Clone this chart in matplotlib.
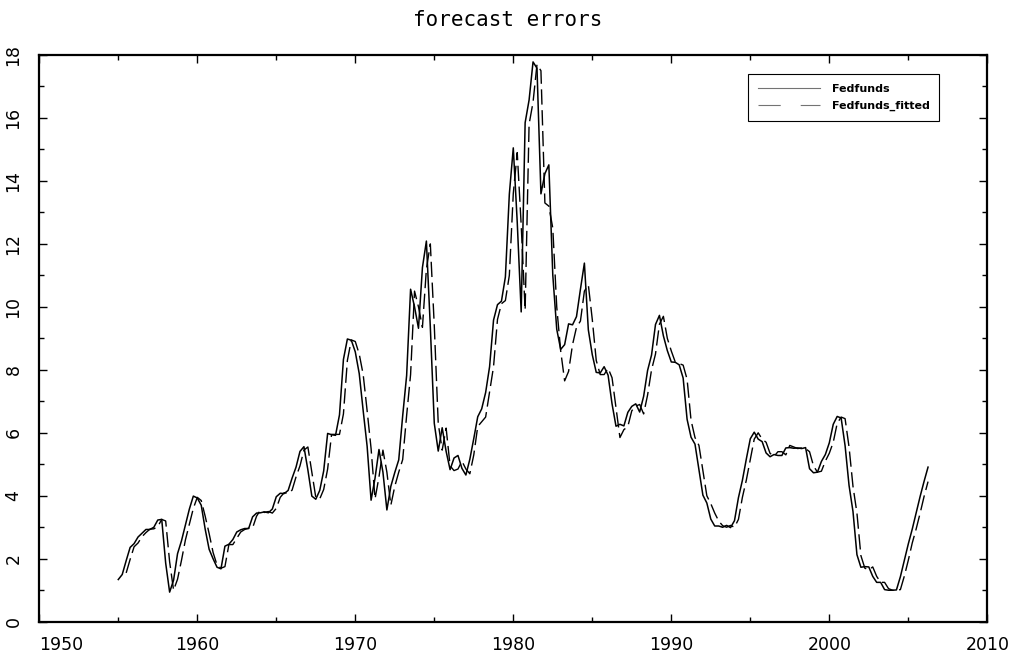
import numpy as np
import matplotlib
matplotlib.use("Agg")
import matplotlib.pyplot as plt
from matplotlib.lines import Line2D
from matplotlib.ticker import MultipleLocator

# quarterly fed funds rate, 1955Q1 .. 2006Q2
first_year = 1955
fedfunds = [
    1.34, 1.50, 1.94, 2.36,   # 1955
    2.48, 2.69, 2.81, 2.93,   # 1956
    2.93, 3.00, 3.23, 3.25,   # 1957
    1.86, 0.94, 1.32, 2.16,   # 1958
    2.57, 3.08, 3.58, 3.99,   # 1959
    3.93, 3.70, 2.94, 2.30,   # 1960
    2.00, 1.73, 1.68, 2.40,   # 1961
    2.46, 2.61, 2.85, 2.92,   # 1962
    2.96, 2.96, 3.33, 3.45,   # 1963
    3.46, 3.49, 3.46, 3.58,   # 1964
    3.97, 4.08, 4.07, 4.17,   # 1965
    4.56, 4.91, 5.41, 5.56,   # 1966
    4.82, 3.99, 3.89, 4.17,   # 1967
    4.79, 5.98, 5.94, 5.92,   # 1968
    6.57, 8.33, 8.98, 8.94,   # 1969
    8.57, 7.88, 6.70, 5.57,   # 1970
    3.86, 4.56, 5.47, 4.75,   # 1971
    3.55, 4.30, 4.74, 5.14,   # 1972
    6.54, 7.82, 10.56, 10.00, # 1973
    9.32, 11.25, 12.09, 9.35, # 1974
    6.30, 5.42, 6.16, 5.41,   # 1975
    4.83, 5.20, 5.28, 4.87,   # 1976
    4.66, 5.16, 5.82, 6.51,   # 1977
    6.76, 7.28, 8.10, 9.58,   # 1978
    10.07, 10.18, 10.95, 13.58,  # 1979
    15.05, 12.69, 9.84, 15.85,   # 1980
    16.57, 17.78, 17.58, 13.59,  # 1981
    14.23, 14.51, 11.01, 9.29,   # 1982
    8.65, 8.80, 9.46, 9.43,   # 1983
    9.69, 10.56, 11.39, 9.27, # 1984
    8.48, 7.92, 7.90, 8.10,   # 1985
    7.83, 6.92, 6.21, 6.27,   # 1986
    6.22, 6.65, 6.84, 6.92,   # 1987
    6.66, 7.16, 7.98, 8.47,   # 1988
    9.44, 9.73, 9.08, 8.61,   # 1989
    8.25, 8.24, 8.16, 7.74,   # 1990
    6.43, 5.86, 5.64, 4.82,   # 1991
    4.02, 3.77, 3.26, 3.04,   # 1992
    3.04, 3.00, 3.06, 2.99,   # 1993
    3.21, 3.94, 4.49, 5.17,   # 1994
    5.81, 6.02, 5.80, 5.72,   # 1995
    5.36, 5.24, 5.31, 5.28,   # 1996
    5.28, 5.52, 5.53, 5.51,   # 1997
    5.52, 5.50, 5.53, 4.86,   # 1998
    4.73, 4.75, 5.09, 5.31,   # 1999
    5.68, 6.27, 6.52, 6.47,   # 2000
    5.59, 4.33, 3.50, 2.13,   # 2001
    1.73, 1.75, 1.74, 1.44,   # 2002
    1.25, 1.25, 1.02, 1.00,   # 2003
    1.00, 1.01, 1.43, 1.95,   # 2004
    2.47, 2.94, 3.46, 3.98,   # 2005
    4.46, 4.91,               # 2006
]

# one step ahead fitted values
fedfunds_fitted = [
    np.nan, np.nan, 1.55, 1.98,
    2.38, 2.50, 2.70, 2.83,
    2.94, 2.95, 3.02, 3.25,
    3.20, 1.90, 1.00, 1.35,
    1.95, 2.60, 3.10, 3.60,
    3.95, 3.85, 3.35, 2.80,
    2.20, 1.80, 1.70, 1.75,
    2.45, 2.45, 2.65, 2.85,
    2.93, 2.97, 2.98, 3.35,
    3.55, 3.47, 3.50, 3.45,
    3.60, 3.95, 4.10, 4.07,
    4.18, 4.60, 4.95, 5.45,
    5.55, 4.75, 3.95, 3.90,
    4.20, 4.85, 5.95, 5.95,
    5.95, 6.60, 8.30, 8.95,
    8.90, 8.50, 7.85, 6.70,
    5.50, 3.90, 4.60, 5.45,
    4.75, 3.70, 4.30, 4.75,
    5.15, 6.55, 7.85, 10.50,
    10.00, 9.35, 11.20, 12.00,
    9.40, 6.30, 5.45, 6.15,
    4.95, 4.80, 4.85, 5.10,
    4.85, 4.70, 5.30, 6.20,
    6.35, 6.50, 7.30, 8.10,
    9.60, 10.10, 10.20, 11.00,
    13.60, 14.90, 12.60, 9.90,
    15.80, 16.50, 17.70, 17.50,
    13.30, 13.20, 12.50, 10.00,
    8.60, 7.65, 7.95, 8.80,
    9.35, 9.55, 10.50, 10.70,
    9.60, 8.30, 7.85, 7.85,
    8.05, 7.75, 6.80, 5.85,
    6.10, 6.20, 6.70, 6.85,
    6.90, 6.60, 7.20, 8.00,
    8.50, 9.45, 9.70, 9.00,
    8.60, 8.25, 8.20, 8.15,
    7.70, 6.40, 5.85, 5.60,
    4.80, 4.00, 3.75, 3.45,
    3.20, 3.05, 3.00, 3.06,
    3.00, 3.25, 3.95, 4.50,
    5.15, 5.80, 6.00, 5.80,
    5.70, 5.35, 5.25, 5.40,
    5.40, 5.30, 5.60, 5.55,
    5.50, 5.52, 5.50, 5.40,
    4.95, 4.75, 4.78, 5.10,
    5.35, 5.70, 6.30, 6.50,
    6.45, 5.55, 4.30, 3.45,
    2.10, 1.70, 1.65, 1.74,
    1.44, 1.25, 1.25, 1.05,
    1.00, 1.00, 1.02, 1.45,
    1.95, 2.50, 2.95, 3.45,
    3.98, 4.45,
]

year_ticks = [1950, 1960, 1970, 1980, 1990, 2000, 2010]
year_labels = ["1950", "1960", "1970", "1980", "1990", "2000", "2010"]

dates = first_year + np.arange(len(fedfunds)) / 4.0

fig = plt.figure(figsize=(10.15, 6.57), dpi=100)
ax = fig.add_axes([0.0387, 0.0537, 0.934, 0.8626])

ax.plot(dates, fedfunds, color="black", lw=1.1)
ax.plot(dates, fedfunds_fitted, color="black", lw=1.0, dashes=(11, 4))

ax.set_xlim(1950, 2010)
ax.set_ylim(0, 18)
ax.set_xticks(year_ticks)
ax.set_xticklabels(year_labels)
ax.xaxis.set_minor_locator(MultipleLocator(5))
ax.yaxis.set_major_locator(MultipleLocator(2))
ax.yaxis.set_minor_locator(MultipleLocator(1))

ax.tick_params(which="both", direction="in", top=True, right=True, width=1.0)
ax.tick_params(which="major", length=6)
ax.tick_params(which="minor", length=3.5)
ax.tick_params(axis="x", labelsize=12.5, pad=10)
ax.tick_params(axis="y", labelsize=12.5, pad=12, labelrotation=90)
for lab in ax.get_yticklabels():
    lab.set_va("center")
ax.get_xticklabels()[0].set_ha("left")
for sp in ax.spines.values():
    sp.set_linewidth(1.6)

fig.suptitle("forecast errors", x=0.5, y=0.985, fontsize=15,
             family="DejaVu Sans Mono")

# legend samples drawn a bit lighter, like the original
handles = [
    Line2D([], [], color="0.45", lw=0.8),
    Line2D([], [], color="0.45", lw=0.8, dashes=(20, 18)),
]
leg = ax.legend(handles, ["Fedfunds", "Fedfunds_fitted"],
                loc="upper right", bbox_to_anchor=(0.9495, 0.966),
                borderaxespad=0, fontsize=8, handlelength=5.6,
                handletextpad=1.0, fancybox=False, edgecolor="black",
                framealpha=1, borderpad=0.9, labelspacing=0.6)
leg.get_frame().set_linewidth(0.8)
for t in leg.get_texts():
    t.set_fontweight("bold")

fig.savefig("out.png", dpi=100)
